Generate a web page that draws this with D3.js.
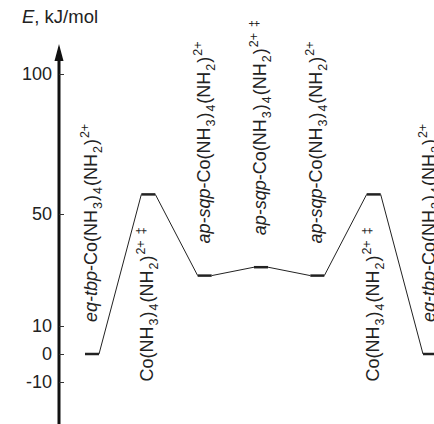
<!DOCTYPE html>
<html>
<head>
<meta charset="utf-8">
<script src="https://cdn.jsdelivr.net/npm/d3@7"></script>
<style>
  body { margin: 0; background: #fff; }
  svg { display: block; font-family: "Liberation Sans", Arial, sans-serif; }
</style>
</head>
<body>
<div id="chart"></div>
<script>
//Datos del perfil energético
const prefixes = ['eq-tbp', '', 'ap-sqp', 'ap-sqp', 'ap-sqp', '', 'eq-tbp'];
const energies = [0, 57, 28, 31, 28, 57, 0];
const isTS = [false, true, false, true, false, true, false];
const labelSide = ['above', 'below', 'above', 'above', 'above', 'below', 'above'];
const tickValues = [100, 50, 10, 0, -10];

const width = 434, height = 424;

let svg = d3.select('#chart')
    .append('svg')
    .attr('width', width)
    .attr('height', height);

let x = d3.scaleLinear()
    .domain([0, prefixes.length - 1])
    .range([92, 430]);

let y = d3.scaleLinear()
    .domain([0, 100])
    .range([354, 74]);

const HALF = 7;

//Eje vertical con flecha
svg.append('line')
    .attr('x1', 59).attr('x2', 59)
    .attr('y1', 58).attr('y2', height)
    .attr('stroke', '#111')
    .attr('stroke-width', 3);

svg.append('path')
    .attr('d', 'M59,44 L54.5,61 L63.5,61 Z')
    .attr('fill', '#111');

let axis = d3.axisRight(y)
    .tickValues(tickValues)
    .tickSize(5)
    .tickFormat('');

let gAxis = svg.append('g')
    .attr('transform', 'translate(59,0)')
    .call(axis);
gAxis.select('.domain').remove();
gAxis.selectAll('line').attr('stroke', '#333').attr('stroke-width', 1);

svg.append('g')
    .selectAll('text')
    .data(tickValues)
    .enter()
    .append('text')
    .attr('x', 52)
    .attr('y', function(d) { return y(d); })
    .attr('dy', '0.36em')
    .attr('text-anchor', 'end')
    .attr('font-size', 18)
    .attr('fill', '#222')
    .text(function(d) { return d; });

//Título del eje
let title = svg.append('text')
    .attr('x', 22)
    .attr('y', 23)
    .attr('font-size', 18.5)
    .attr('fill', '#222');
title.append('tspan').attr('font-style', 'italic').text('E');
title.append('tspan').text(', kJ/mol');

//Líneas de conexión
let conn = [];
for (let i = 0; i < energies.length - 1; i++) {
    conn.push([i, i + 1]);
}
svg.append('g')
    .selectAll('line')
    .data(conn)
    .enter()
    .append('line')
    .attr('x1', function(d) { return x(d[0]) + HALF; })
    .attr('y1', function(d) { return y(energies[d[0]]); })
    .attr('x2', function(d) { return x(d[1]) - HALF; })
    .attr('y2', function(d) { return y(energies[d[1]]); })
    .attr('stroke', '#222')
    .attr('stroke-width', 1);

//Niveles
svg.append('g')
    .selectAll('line')
    .data(energies)
    .enter()
    .append('line')
    .attr('x1', function(d, i) { return x(i) - HALF; })
    .attr('x2', function(d, i) { return x(i) + HALF; })
    .attr('y1', function(d) { return y(d); })
    .attr('y2', function(d) { return y(d); })
    .attr('stroke', '#222')
    .attr('stroke-width', 2.5);

//Etiquetas rotadas
let labels = svg.append('g')
    .selectAll('text')
    .data(energies)
    .enter()
    .append('text')
    .attr('transform', function(d, i) {
        let ly = labelSide[i] == 'above' ? y(d) - 32 : y(d) + 33;
        return 'translate(' + (x(i) + 5) + ',' + ly + ') rotate(-90)';
    })
    .attr('text-anchor', function(d, i) { return labelSide[i] == 'above' ? 'start' : 'end'; })
    .attr('font-size', 18)
    .attr('fill', '#222');

labels.each(function(d, i) {
    let t = d3.select(this);
    if (prefixes[i] != '') {
        t.append('tspan').attr('font-style', 'italic').text(prefixes[i]);
        t.append('tspan').text('-Co(NH');
    } else {
        t.append('tspan').text('Co(NH');
    }
    t.append('tspan').attr('font-size', 12.5).attr('dx', 1).attr('dy', 5).text('3');
    t.append('tspan').attr('dx', 1).attr('dy', -5).text(')');
    t.append('tspan').attr('font-size', 12.5).attr('dx', 1).attr('dy', 5).text('4');
    t.append('tspan').attr('dx', 1).attr('dy', -5).text('(NH');
    t.append('tspan').attr('font-size', 12.5).attr('dx', 1).attr('dy', 5).text('2');
    t.append('tspan').attr('dx', 1).attr('dy', -5).text(')');
    t.append('tspan').attr('font-size', 12.5).attr('dx', 1).attr('dy', -8).text('2+');
    if (isTS[i]) {
        t.append('tspan').attr('font-size', 12.5).attr('dx', 6).text('\u2021');
    }
});
</script>
</body>
</html>
